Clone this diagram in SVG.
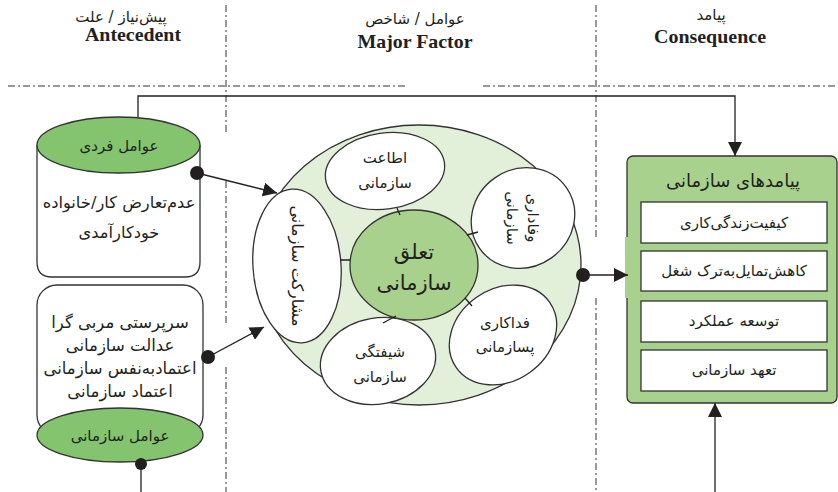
<svg xmlns="http://www.w3.org/2000/svg" width="838" height="492" viewBox="0 0 838 492">
<defs>
<style>
.fa{font-family:"DejaVu Sans",sans-serif;fill:#231f20;text-anchor:middle;}
.en{font-family:"Liberation Serif",serif;font-weight:bold;fill:#231f20;text-anchor:middle;}
.dd{stroke:#333;stroke-width:1;stroke-dasharray:7 3 2 3;fill:none;}
.ln{stroke:#231f20;stroke-width:1.3;fill:none;}
.sh{stroke:#333;stroke-width:1.3;}
</style>
<marker id="ah" viewBox="0 0 10 10" refX="10" refY="5" markerWidth="14" markerHeight="14" markerUnits="userSpaceOnUse" orient="auto">
<path d="M0,0 L10,5 L0,10 z" fill="#231f20"/>
</marker>
</defs>
<rect width="838" height="492" fill="#fff"/>

<g id="headers">
<text class="fa" x="121" y="22" font-size="15">پیش&#8204;نیاز / علت</text>
<text class="en" x="133" y="41" font-size="18" textLength="96" lengthAdjust="spacingAndGlyphs">Antecedent</text>
<text class="fa" x="415" y="24" font-size="15">عوامل / شاخص</text>
<text class="en" x="415" y="48" font-size="19" textLength="115" lengthAdjust="spacingAndGlyphs">Major Factor</text>
<text class="fa" x="711" y="20" font-size="15">پیامد</text>
<text class="en" x="710" y="43" font-size="19" textLength="112" lengthAdjust="spacingAndGlyphs">Consequence</text>
</g>

<g id="guides">
<path class="dd" d="M8,86 H408 M483,86 H838"/>
<path class="dd" d="M226,5 V135 M226,181 V325 M226,367 V492"/>
<path class="dd" d="M596,5 V237 M596,298 V492"/>
</g>

<g id="center-factor">
<ellipse cx="419" cy="265" rx="162" ry="140" fill="#e2efd9" class="sh"/>
<g id="n-obedience">
<ellipse cx="385" cy="171" rx="60" ry="38" transform="rotate(-8 385 171)" fill="#fff" class="sh"/>
<text class="fa" x="385" y="163" font-size="15">اطاعت</text>
<text class="fa" x="385" y="188" font-size="15">سازمانی</text>
</g>
<g id="n-loyalty">
<ellipse cx="523" cy="218" rx="53" ry="49" transform="rotate(-35 523 218)" fill="#fff" class="sh"/>
<text class="fa" font-size="15" transform="translate(522,218) rotate(90)" x="0" y="-6">وفاداری</text>
<text class="fa" font-size="15" transform="translate(522,218) rotate(90)" x="0" y="15">سازمانی</text>
</g>
<g id="n-participation">
<ellipse cx="297" cy="266" rx="44" ry="77" transform="rotate(-4 297 266)" fill="#fff" class="sh"/>
<text class="fa" font-size="16" transform="translate(297,266) rotate(90)" x="0" y="5">مشارکت سازمانی</text>
</g>
<g id="n-engagement">
<ellipse cx="378" cy="361" rx="58" ry="43" transform="rotate(-10 378 361)" fill="#fff" class="sh"/>
<text class="fa" x="380" y="357" font-size="15">شیفتگی</text>
<text class="fa" x="380" y="382" font-size="15">سازمانی</text>
</g>
<g id="n-sacrifice">
<ellipse cx="503" cy="335" rx="57" ry="46" transform="rotate(-35 503 335)" fill="#fff" class="sh"/>
<text class="fa" x="505" y="328" font-size="15">فداکاری</text>
<text class="fa" x="505" y="352" font-size="15">پسازمانی</text>
</g>
<g id="n-commitment">
<ellipse cx="414" cy="265" rx="64" ry="55" fill="#a9d18e" class="sh"/>
<text class="fa" x="414" y="259" font-size="21">تعلق</text>
<text class="fa" x="414" y="290" font-size="21">سازمانی</text>
</g>
<path class="ln" d="M397,208 L400,215 M467,235 L478,232 M340,260 H350 M383,323 L396,316 M465,298 L472,306"/>
</g>

<g id="n-individual">
<path d="M37,145 V262 Q37,277 52,277 H185 Q200,277 200,262 V145" fill="#fff" class="sh"/>
<ellipse cx="118.5" cy="145" rx="81.5" ry="28" fill="#84c46f" class="sh"/>
<text class="fa" x="119" y="151" font-size="15">عوامل فردی</text>
<text class="fa" x="119" y="208" font-size="16.3">عدم&#8204;تعارض کار/خانواده</text>
<text class="fa" x="119" y="238" font-size="16.3">خودکارآمدی</text>
</g>

<g id="n-organizational">
<rect x="37" y="285" width="166" height="150" rx="20" fill="#fff" class="sh"/>
<ellipse cx="120" cy="435" rx="83" ry="27" fill="#84c46f" class="sh"/>
<text class="fa" x="120" y="328" font-size="16.5">سرپرستی مربی گرا</text>
<text class="fa" x="120" y="351" font-size="16.5">عدالت سازمانی</text>
<text class="fa" x="120" y="374" font-size="16.5">اعتمادبه&#8204;نفس سازمانی</text>
<text class="fa" x="120" y="397" font-size="16.5">اعتماد سازمانی</text>
<text class="fa" x="120" y="441" font-size="15">عوامل سازمانی</text>
</g>

<g id="n-consequences">
<rect x="627" y="156" width="210" height="247" rx="6" fill="#a9d18e" class="sh"/>
<rect x="625" y="237" width="5" height="61" fill="#a9d18e"/>
<text class="fa" x="733" y="187" font-size="18">پیامدهای سازمانی</text>
<rect x="641" y="202" width="186" height="41" fill="#fff" class="sh"/>
<text class="fa" x="734" y="228" font-size="15">کیفیت&#8204;زندگی&#8204;کاری</text>
<rect x="641" y="251" width="186" height="40" fill="#fff" class="sh"/>
<text class="fa" x="734" y="276" font-size="15">کاهش&#8204;تمایل&#8204;به&#8204;ترک شغل</text>
<rect x="641" y="301" width="186" height="41" fill="#fff" class="sh"/>
<text class="fa" x="734" y="326" font-size="15">توسعه عملکرد</text>
<rect x="641" y="350" width="186" height="41" fill="#fff" class="sh"/>
<text class="fa" x="734" y="375" font-size="15">تعهد سازمانی</text>
</g>

<g id="connectors">
<path class="ln" d="M138,117 V96 H735 V156" marker-end="url(#ah)"/>
<path class="ln" d="M197,173 L277,193" marker-end="url(#ah)"/>
<circle cx="197" cy="173" r="7" fill="#231f20"/>
<path class="ln" d="M208,357 L264,327" marker-end="url(#ah)"/>
<circle cx="208" cy="357" r="7" fill="#231f20"/>
<path class="ln" d="M141,464 V492"/>
<circle cx="141" cy="464" r="6" fill="#231f20"/>
<path class="ln" d="M583,275 H628" marker-end="url(#ah)"/>
<circle cx="583" cy="275" r="7" fill="#231f20"/>
<path class="ln" d="M715,492 V403" marker-end="url(#ah)"/>
</g>
</svg>
